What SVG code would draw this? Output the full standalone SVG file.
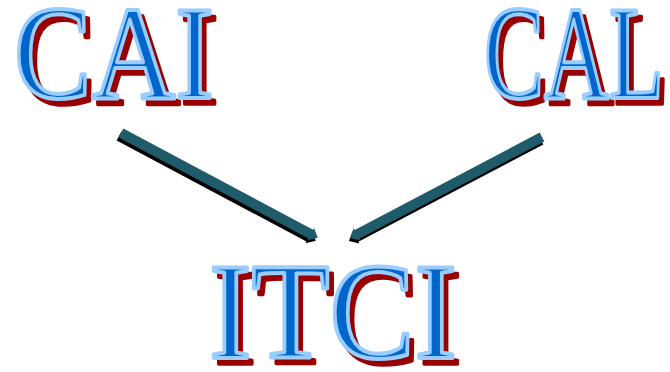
<svg xmlns="http://www.w3.org/2000/svg" width="670" height="372" viewBox="0 0 670 372">
<style>
.t{font-family:"Liberation Serif","Times New Roman",serif;font-size:133px;}
.sh{fill:#990000;stroke:#990000;stroke-width:3.5;stroke-linejoin:round;}
.mn{fill:#0066CC;stroke:#99CCFF;stroke-width:4;stroke-linejoin:round;}
.as{fill:#000000;}
.af{fill:#1F5B6A;}
</style>
<defs>
<path id="arrL" d="M0,-5 L215,-5 L215,-7 L223,0 L215,7 L215,5 L0,5 Z"/>
<path id="arrR" d="M0,-5 L209,-5 L209,-7 L217,0 L209,7 L209,5 L0,5 Z"/>
</defs>
<rect width="670" height="372" fill="#ffffff"/>
<g id="connectors">
<g id="arrow-cai-itci">
<use href="#arrL" class="as" transform="translate(119,136) rotate(28.05)"/>
<use href="#arrL" class="af" transform="translate(121,133) rotate(28.05)"/>
</g>
<g id="arrow-cal-itci">
<use href="#arrR" class="as" transform="translate(541,140) rotate(152.25)"/>
<use href="#arrR" class="af" transform="translate(542,137) rotate(152.25)"/>
</g>
</g>
<g id="node-cai">
<text class="t sh" x="19" y="104" textLength="200" lengthAdjust="spacingAndGlyphs">CAI</text>
<text class="t mn" x="14" y="98" textLength="200" lengthAdjust="spacingAndGlyphs">CAI</text>
</g>
<g id="node-cal">
<text class="t sh" x="489" y="104" textLength="180" lengthAdjust="spacingAndGlyphs">CAL</text>
<text class="t mn" x="484" y="98" textLength="180" lengthAdjust="spacingAndGlyphs">CAL</text>
</g>
<g id="node-itci">
<text class="t sh" x="214" y="364" textLength="248" lengthAdjust="spacingAndGlyphs" style="font-size:137px">ITCI</text>
<text class="t mn" x="209" y="358" textLength="248" lengthAdjust="spacingAndGlyphs" style="font-size:137px">ITCI</text>
</g>
</svg>
